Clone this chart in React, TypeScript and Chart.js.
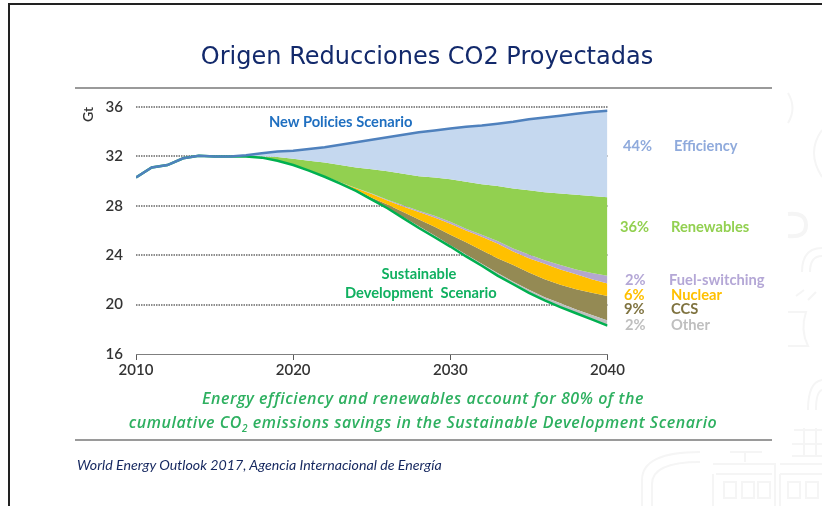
import React, { useEffect, useRef } from "react";
import { Chart, registerables } from "chart.js";

Chart.register(...registerables);

const years = [2010,2011,2012,2013,2014,2015,2016,2017,2018,2019,2020,2021,2022,2023,2024,2025,2026,2027,2028,2029,2030,2031,2032,2033,2034,2035,2036,2037,2038,2039,2040];
const newPolicies = [30.3,31.1,31.3,31.85,32.05,32.0,32.0,32.1,32.25,32.4,32.45,32.6,32.75,32.95,33.15,33.35,33.55,33.75,33.95,34.1,34.25,34.4,34.5,34.65,34.8,35.0,35.15,35.3,35.45,35.6,35.7];
const efficiencyFloor = [30.3,31.1,31.3,31.85,32.05,32.0,32.0,32.0,32.0,31.95,31.8,31.65,31.5,31.3,31.1,30.95,30.8,30.6,30.4,30.3,30.15,29.95,29.75,29.6,29.4,29.25,29.1,29.0,28.9,28.8,28.7];
const renewablesFloor = [30.3,31.1,31.3,31.85,32.05,32.0,32.0,32.0,31.9,31.65,31.3,30.9,30.42,29.9,29.45,29.0,28.5,28.05,27.6,27.2,26.7,26.15,25.65,25.15,24.55,24.05,23.6,23.2,22.85,22.55,22.34];
const fuelSwitchingFloor = [30.3,31.1,31.3,31.85,32.05,32.0,32.0,32.0,31.9,31.65,31.3,30.88,30.4,29.88,29.42,28.95,28.42,27.95,27.5,27.05,26.55,26.0,25.5,24.95,24.3,23.75,23.3,22.85,22.45,22.05,21.7];
const nuclearFloor = [30.3,31.1,31.3,31.85,32.05,32.0,32.0,32.0,31.9,31.65,31.3,30.86,30.37,29.85,29.3,28.65,28.1,27.5,26.9,26.3,25.65,25.05,24.4,23.75,23.2,22.6,22.05,21.6,21.25,20.95,20.7];
const ccsFloor = [30.3,31.1,31.3,31.85,32.05,32.0,32.0,32.0,31.9,31.65,31.3,30.85,30.35,29.8,29.22,28.52,27.85,27.1,26.35,25.6,24.8,24.05,23.3,22.55,21.85,21.2,20.6,20.1,19.6,19.15,18.72];
const sustainable = [30.3,31.1,31.3,31.85,32.05,32.0,32.0,32.0,31.9,31.65,31.3,30.85,30.35,29.8,29.2,28.5,27.8,27.0,26.2,25.45,24.7,23.9,23.15,22.35,21.65,20.95,20.35,19.8,19.3,18.8,18.3];

const yTicks = [16, 20, 24, 28, 32, 36];
const xTicks = [2010, 2020, 2030, 2040];

const FONT = "Lato, 'Open Sans', sans-serif";

const points = (values: number[]) => values.map((y, i) => ({ x: years[i], y }));

function Txt(props: { x: number; y: number; w?: number; c: string; s?: number; b?: number; al?: "left" | "center" | "right"; f?: string; i?: boolean; ls?: number; children: React.ReactNode }) {
  const { x, y, w = 220, c, s = 14.7, b = 700, al = "left", f = FONT, i = false, ls = 0, children } = props;
  const left = al === "left" ? x : al === "center" ? x - w / 2 : x - w;
  return (
    <div style={{ position: "absolute", left, top: y - 14, width: w, height: 28, lineHeight: "28px", textAlign: al, color: c, fontSize: s, fontWeight: b, fontFamily: f, fontStyle: i ? "italic" : "normal", letterSpacing: ls, whiteSpace: "nowrap" }}>
      {children}
    </div>
  );
}

function Rule({ y }: { y: number }) {
  return <div style={{ position: "absolute", left: 75, width: 697, top: y, height: 2, background: "#9a9a9a" }} />;
}

function Watermark() {
  return (
    <svg width={822} height={506} style={{ position: "absolute", left: 0, top: 0 }} fill="none" stroke="#f5f5f5" strokeWidth={2}>
      <path d="M788 93 Q797 108 788 123" />
      <path d="M822 130 Q806 152 822 177" />
      <path d="M788 214 Q806 212 806 225 Q806 238 788 236" strokeWidth={4} />
      <path d="M802 272 Q802 248 822 248 M810 272 Q810 256 822 256" />
      <path d="M788 312 H806 Q800 330 808 346 H788 M808 300 L816 292 M796 296 L804 290" />
      <path d="M808 410 Q808 382 822 380 M816 410 Q816 392 822 390" />
      <path d="M794 430 H822 M792 444 H822 M792 456 H822 M804 428 V456 M816 428 V456" />
      <path d="M642 506 V480 Q642 452 700 452 M652 506 V484 Q652 462 700 462" />
      <path d="M713 464 H775 V506 M716 474 H772 M713 474 V506 M724 482 H736 V498 H724 Z M742 482 H754 V498 H742 Z M758 482 H770 V498 H758 Z" />
      <path d="M780 464 H822 M780 474 H822 M780 474 V506 M788 482 H800 V498 H788 Z M806 482 H818 V498 H806 Z" />
      <path d="M745 452 V462 M730 452 H762" />
    </svg>
  );
}

export default function App() {
  const ref = useRef<HTMLCanvasElement>(null);
  useEffect(() => {
    const base = { pointRadius: 0, borderWidth: 0, tension: 0 };
    const chart = new Chart(ref.current!, {
      type: "line",
      data: {
        datasets: [
          { ...base, label: "New Policies Scenario", data: points(newPolicies), borderColor: "#4F81BD", borderWidth: 2.5, fill: false, order: 0 },
          { ...base, label: "Efficiency", data: points(efficiencyFloor), backgroundColor: "#C5D8EF", fill: 0, order: 1 },
          { ...base, label: "Renewables", data: points(renewablesFloor), backgroundColor: "#92D050", fill: 1, order: 1 },
          { ...base, label: "Fuel-switching", data: points(fuelSwitchingFloor), backgroundColor: "#B4A7CE", fill: 2, order: 1 },
          { ...base, label: "Nuclear", data: points(nuclearFloor), backgroundColor: "#FFC000", fill: 3, order: 1 },
          { ...base, label: "CCS", data: points(ccsFloor), backgroundColor: "#948A54", fill: 4, order: 1 },
          { ...base, label: "Sustainable Development Scenario", data: points(sustainable), borderColor: "#00B050", borderWidth: 2.5, backgroundColor: "#BFBFBF", fill: 5, order: 0 },
        ],
      },
      options: {
        animation: false,
        responsive: false,
        layout: { padding: { left: 80, right: 214.5, top: 107, bottom: 0 } },
        plugins: {
          legend: { display: false },
          tooltip: { enabled: false },
          title: { display: false },
        },
        scales: {
          x: {
            type: "linear",
            min: 2010,
            max: 2040,
            afterBuildTicks: (s: any) => { s.ticks = xTicks.map((value) => ({ value })); },
            afterFit: (s: any) => { s.height = 152; },
            ticks: { color: "#333", font: { family: FONT, size: 15, weight: 600 }, padding: 1, maxRotation: 0, autoSkip: false, callback: (v: any) => String(v) },
            grid: { drawOnChartArea: false, drawTicks: true, tickLength: 6, color: "#595959", lineWidth: 1 },
            border: { color: "#7f7f7f", width: 1 },
          },
          y: {
            min: 16,
            max: 36,
            afterBuildTicks: (s: any) => { s.ticks = yTicks.map((value) => ({ value })); },
            afterFit: (s: any) => { s.width = 56; },
            title: { display: true, text: "Gt", color: "#333", align: "end", font: { family: FONT, size: 14, weight: 600 }, padding: { top: 0, bottom: 0 } },
            ticks: { color: "#333", font: { family: FONT, size: 15, weight: 600 }, padding: 13, autoSkip: false },
            grid: {
              drawTicks: false,
              tickLength: 0,
              lineWidth: 2,
              color: (ctx: any) => (ctx.tick && ctx.tick.value === 16 ? "rgba(0,0,0,0)" : "#8c8c8c"),
            },
            border: { display: false, dash: [1.5, 1] },
          },
        },
      },
    } as any);
    return () => chart.destroy();
  }, []);

  return (
    <div style={{ position: "fixed", left: 0, top: 0, width: 822, height: 506, background: "#fff", overflow: "hidden" }}>
      <Watermark />
      <div style={{ position: "absolute", left: 8, top: 3, width: 814, height: 2, background: "#222" }} />
      <div style={{ position: "absolute", left: 8, top: 3, width: 2, height: 503, background: "#222" }} />
      <canvas ref={ref} width={822} height={506} style={{ position: "absolute", left: 0, top: 0, display: "block" }} />
      <Rule y={87} />
      <Rule y={439} />

      <Txt x={427} y={56} w={600} al="center" c="#12296B" s={24} b={400} f="'DejaVu Sans', sans-serif">Origen Reducciones CO2 Proyectadas</Txt>

      <Txt x={269} y={121} c="#1F6FC0">New Policies Scenario</Txt>
      <Txt x={419} y={273} al="center" c="#10B060">Sustainable</Txt>
      <Txt x={345} y={292} c="#10B060">Development&nbsp; Scenario</Txt>

      <Txt x={623} y={145} c="#8FAADC">44%</Txt>
      <Txt x={674} y={145} c="#8FAADC">Efficiency</Txt>
      <Txt x={620} y={226} c="#92D050">36%</Txt>
      <Txt x={671} y={226} c="#92D050">Renewables</Txt>
      <Txt x={625} y={279} c="#B4A7D6">2%</Txt>
      <Txt x={669} y={279} c="#B4A7D6">Fuel-switching</Txt>
      <Txt x={624} y={294} c="#FFC000">6%</Txt>
      <Txt x={671} y={294} c="#FFC000">Nuclear</Txt>
      <Txt x={624} y={308} c="#7F7340">9%</Txt>
      <Txt x={671} y={308} c="#7F7340">CCS</Txt>
      <Txt x={625} y={324} c="#BFBFBF">2%</Txt>
      <Txt x={671} y={324} c="#BFBFBF">Other</Txt>

      <Txt x={423} y={398} w={600} al="center" c="#2EB060" s={16} b={600} i ls={0.55} f="'Open Sans', sans-serif">Energy efficiency and renewables account for 80% of the</Txt>
      <Txt x={423} y={422} w={700} al="center" c="#2EB060" s={16} b={600} i ls={0.55} f="'Open Sans', sans-serif">cumulative CO<sub style={{ fontSize: 10, lineHeight: 0 }}>2</sub> emissions savings in the Sustainable Development Scenario</Txt>
      <Txt x={77} y={465} w={500} c="#15275F" s={14.2} b={400} i>World Energy Outlook 2017, Agencia Internacional de Energía</Txt>
    </div>
  );
}
